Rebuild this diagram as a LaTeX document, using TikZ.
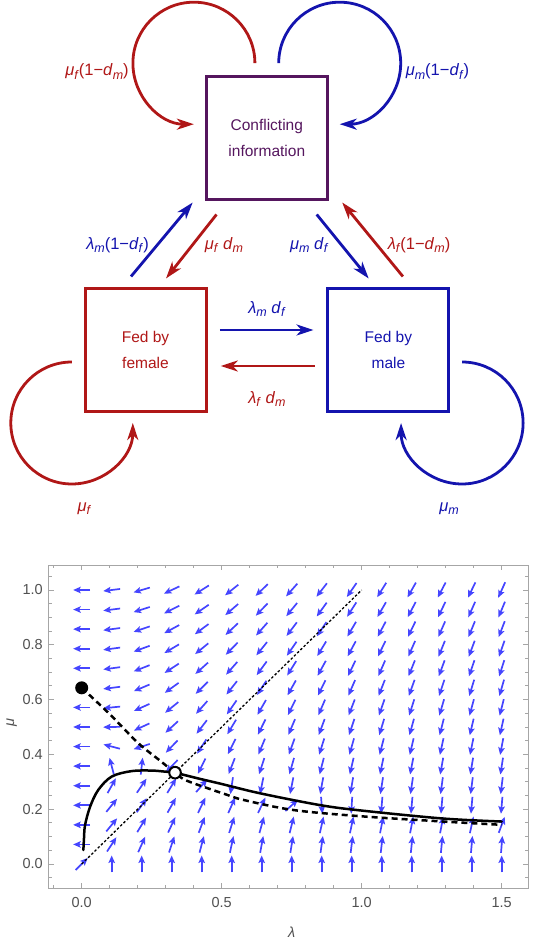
\documentclass[tikz,border=0pt]{standalone}
\usepackage{fontspec}
\setmainfont{Liberation Sans}
\usepackage{tikz}
\usetikzlibrary{positioning,calc,arrows.meta}
\definecolor{redink}   {HTML}{B01717}
\definecolor{blueink}  {HTML}{1414AE}
\definecolor{plum}     {HTML}{55165E}
\definecolor{fieldblue}{HTML}{4545FF}
\definecolor{frameink} {HTML}{A6A6A6}
\definecolor{tickink}  {HTML}{505050}
\newcommand{\vsub}[2]{\textit{#1}\raisebox{-0.4ex}{\fontsize{12.5}{13}\selectfont\textit{#2}}}
\tikzset{
  >=stealth,
  % --- nodes
  box/.style     = {draw, line width=3pt, minimum width=121pt, minimum height=123pt,
                    align=center, inner sep=0pt, font=\fontsize{15.5}{26.2}\selectfont},
  confbox/.style = {box, draw=plum, text=plum},
  fembox/.style  = {box, draw=redink, text=redink},
  malebox/.style = {box, draw=blueink, text=blueink},
  lbl/.style     = {font=\fontsize{16.5}{18}\selectfont, inner sep=1pt},
  lblr/.style    = {lbl, text=redink},
  lblb/.style    = {lbl, text=blueink},
  ticklbl/.style = {font=\fontsize{14.5}{17}\selectfont, text=tickink, inner sep=1pt},
  % --- edges
  e/.style       = {-{Stealth[length=17pt,width=11pt,inset=5pt]}, line width=2.8pt},
  er/.style      = {e, draw=redink},
  eb/.style      = {e, draw=blueink},
  vec/.style     = {-{Stealth[length=7.5pt,width=6.5pt,inset=1.5pt]}, line width=1.7pt, draw=fieldblue},
  curve/.style   = {line width=2.5pt, line join=round, line cap=round},
}

\begin{document}
\begin{tikzpicture}[x=1pt,y=1pt]
  \useasboundingbox (0,0) rectangle (535,939);

  % --- states
  \node[confbox] (conf) at (266.8,800.7) {Conflicting\\information};
  \node[fembox]  (fem)  at (145.5,589.1) {Fed by\\female};
  \node[malebox] (male) at (388.4,589.1) {Fed by\\male};

  % --- transitions
  \draw[eb] ([shift={(12.3,19.9)}]fem.east) -- ([shift={(-12.9,19.9)}]male.west);
  \draw[er] ([shift={(-11.9,-16.1)}]male.west) -- ([shift={(13.3,-16.1)}]fem.east);
  \draw[eb] ([shift={(-14.5,10.4)}]fem.north) -- ([shift={(-12.1,-1.2)}]conf.south west);
  \draw[er] ([shift={(11.7,-13.2)}]conf.south west) -- ([shift={(20.5,8.4)}]fem.north);
  \draw[eb] ([shift={(-12.1,-13.2)}]conf.south east) -- ([shift={(-19.7,8.4)}]male.north);
  \draw[er] ([shift={(14.5,10.4)}]male.north) -- ([shift={(13.4,-1.2)}]conf.south east);

  % --- self loops
  \draw[er] ([shift={(-11.9,12.1)}]conf.north) arc[start angle=0,end angle=270,radius=61];
  \draw[eb] ([shift={(11.9,12.1)}]conf.north) arc[start angle=180,end angle=-90,radius=61];
  \draw[er] ([shift={(-11.7,-12.1)}]fem.west) arc[start angle=90,end angle=360,radius=61];
  \draw[eb] ([shift={(11.7,-12.1)}]male.east) arc[start angle=90,end angle=-180,radius=61];

  % --- rates
  \node[lblr] (rcr) at (97,867.5)    {\vsub{μ}{f}(1−\vsub{d}{m})};
  \node[lblb] (rcb) at (437.5,867.5) {\vsub{μ}{m}(1−\vsub{d}{f})};
  \node[lblb] (rfc) at (117.5,694)   {\vsub{λ}{m}(1−\vsub{d}{f})};
  \node[lblr] (rcf) at (224,694)     {\vsub{μ}{f} \vsub{d}{m}};
  \node[lblb] (rcm) at (309.2,694)   {\vsub{μ}{m} \vsub{d}{f}};
  \node[lblr] (rmc) at (419,694)     {\vsub{λ}{f}(1−\vsub{d}{m})};
  \node[lblb] (rfm) at (267,629.8)   {\vsub{λ}{m} \vsub{d}{f}};
  \node[lblr] (rmf) at (267,540.2)   {\vsub{λ}{f} \vsub{d}{m}};
  \node[lblr] (rff) at (84.3,430.5)  {\vsub{μ}{f}};
  \node[lblb] (rmm) at (449,430.5)   {\vsub{μ}{m}};

  % --- phase plane
  \begin{scope}[shift={(81.7pt,75pt)}, x=280pt, y=274pt]
    \foreach \i in {0,...,14}{
      \foreach \j in {0,...,14}{
        \pgfmathsetmacro\lv{\i*1.5/14}
        \pgfmathsetmacro\mv{\j/14}
        \pgfmathsetmacro\sv{0.335/(\lv+0.676)*(1-exp(-15*\lv))}
        \pgfmathsetmacro\dv{0.1877/(\lv+0.3125)+0.0424}
        \pgfmathsetmacro\fl{ifthenelse(\sv>\mv,60*sqrt(\mv)*(\sv-\mv),100*\mv*(\sv-\mv))}
        \pgfmathsetmacro\fm{147*\lv*(\dv-\mv)}
        \pgfmathtruncatemacro\origin{and(\i==0,\j==0)}
        \pgfmathtruncatemacro\skipit{and(\i==0,\j==9)}
        \ifnum\origin=1 \def\ang{45}\else\pgfmathsetmacro\ang{atan2(\fm,\fl)}\fi
        \pgfmathsetmacro\bng{\ang+180}
        \ifnum\skipit=0
          \draw[vec] ($(\lv,\mv)+(\bng:8.5pt)$) -- ($(\lv,\mv)+(\ang:8.5pt)$);
        \fi
      }
    }

    \draw[line width=1.3pt, dash pattern=on 2.5pt off 2pt] (0,0) -- (1,1);
    \draw[curve, dash pattern=on 6pt off 4pt, line cap=butt] plot[smooth, tension=0.55] coordinates {
      (0,0.643) (0.1,0.547) (0.2,0.443) (0.28,0.377) (0.333,0.333) (0.369,0.307)
      (0.44,0.28) (0.512,0.255) (0.577,0.234) (0.756,0.197) (1.0,0.174)
      (1.29,0.155) (1.5,0.143)};
    \draw[curve] plot[smooth, tension=0.55] coordinates {
      (0.006,0.051) (0.008,0.09) (0.012,0.142) (0.03,0.209) (0.059,0.27)
      (0.107,0.319) (0.178,0.339) (0.249,0.341) (0.298,0.337) (0.333,0.333)
      (0.417,0.312) (0.5,0.292) (0.637,0.258) (0.851,0.215) (1.0,0.195)
      (1.29,0.166) (1.5,0.155)};
    \fill (0,0.643) circle[radius=6.5pt];
    \draw[line width=2pt, fill=white] (1/3,1/3) circle[radius=5.8pt];

    % frame and ticks
    \draw[frameink, line width=1pt] (-0.117,-0.0876) rectangle (1.594,1.091);
    \foreach \k in {-1,...,15}{
      \pgfmathsetmacro\len{ifthenelse(mod(\k,5)==0,5,3)}
      \draw[frameink, line width=0.8pt] ({\k/10},-0.0876) -- ++(0,\len pt);
      \draw[frameink, line width=0.8pt] ({\k/10},1.091) -- ++(0,-\len pt);
    }
    \foreach \k in {-1,...,21}{
      \pgfmathsetmacro\len{ifthenelse(mod(\k,4)==0,5,3)}
      \draw[frameink, line width=0.8pt] (-0.117,{\k/20}) -- ++(\len pt,0);
      \draw[frameink, line width=0.8pt] (1.594,{\k/20}) -- ++(-\len pt,0);
    }
    \foreach \t/\s in {0/0.0,0.5/0.5,1/1.0,1.5/1.5}
      \node[ticklbl] (xl\s) at (\t,-0.142) {\s};
    \foreach \t/\s in {0/0.0,0.2/0.2,0.4/0.4,0.6/0.6,0.8/0.8,1/1.0}
      \node[ticklbl, anchor=east] (yl\s) at (-0.1346,\t) {\s};
    \node[ticklbl] (xaxis) at (0.75,-0.25) {\textit{λ}};
    \node[ticklbl, rotate=90] (yaxis) at (-0.25,0.515) {\textit{μ}};
  \end{scope}
\end{tikzpicture}
\end{document}
